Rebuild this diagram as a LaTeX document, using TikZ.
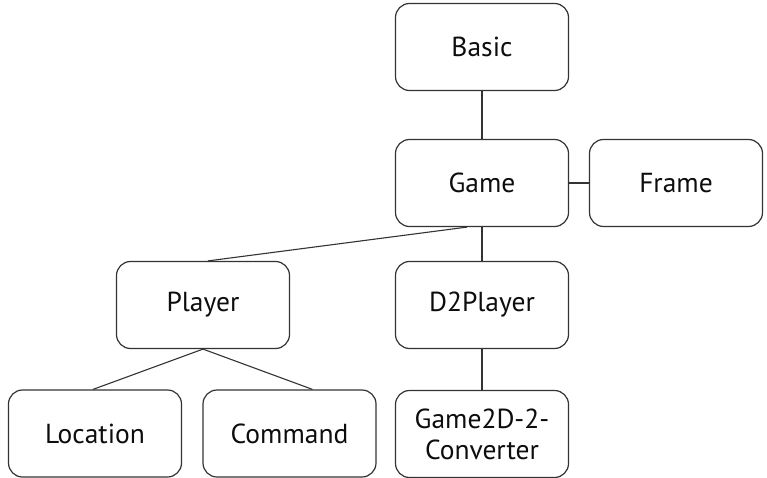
\documentclass[tikz,border=0pt]{standalone}
\usepackage{fontspec}
\setmainfont{PT Sans}
\begin{document}
\begin{tikzpicture}[x=1pt,y=-1pt,
  box/.style={draw=black!80, line width=1.2pt, rounded corners=14pt, minimum width=173pt, minimum height=87pt, inner sep=0pt, align=center, font=\fontsize{27.5}{31}\selectfont, text=black!95},
  link/.style={draw=black!80, line width=1.1pt}]
\useasboundingbox (0,0) rectangle (767,478);
\node[box] (basic) at (482,47) {Basic};
\node[box] (game) at (482,183) {Game};
\node[box] (frame) at (676,183) {Frame};
\node[box] (player) at (203,305) {Player};
\node[box] (d2) at (482,305) {D2Player};
\node[box] (loc) at (95,433.5) {Location};
\node[box] (cmd) at (289.5,433.5) {Command};
\node[box] (conv) at (482,434) {Game2D-2-\\Converter};
\draw[link] (basic) -- (game);
\draw[link] (game) -- (frame);
\draw[link] (game) -- (d2);
\draw[link] ([xshift=-15pt]game.south) -- ([xshift=5pt]player.north);
\draw[link] (d2) -- (conv);
\draw[link] (player.south) -- ([xshift=-2pt]loc.north);
\draw[link] (player.south) -- ([xshift=23pt]cmd.north);
\end{tikzpicture}
\end{document}
